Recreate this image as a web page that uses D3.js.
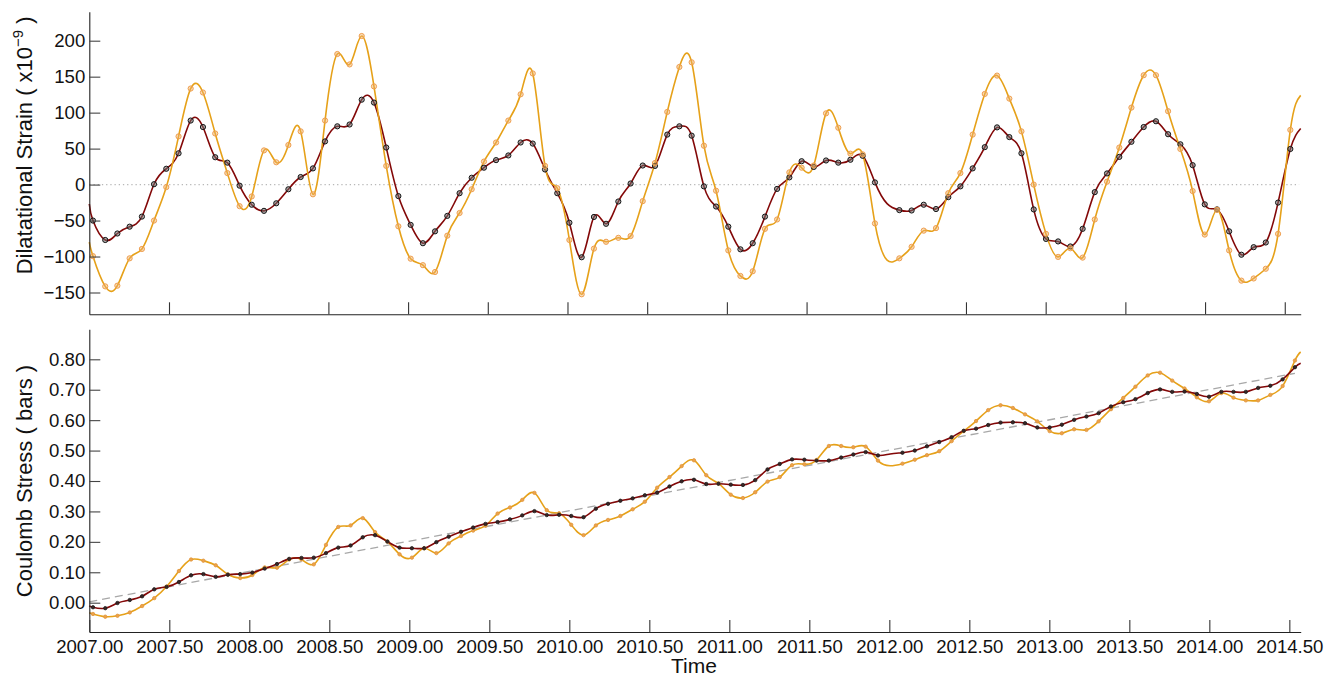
<!DOCTYPE html>
<html>
<head>
<meta charset="utf-8">
<script src="https://cdn.jsdelivr.net/npm/d3@7/dist/d3.min.js"></script>
<style>
  html, body { margin: 0; padding: 0; background: #fff; }
  svg { display: block; font-family: "Liberation Sans", Arial, Helvetica, sans-serif; }
</style>
</head>
<body>
<svg id="chart" width="1335" height="677"></svg>
<script>
// Sample epochs (decimal years, 28-day spacing)
const times = [
  2007.023, 2007.100, 2007.176, 2007.253, 2007.330, 2007.406, 2007.483, 2007.560, 2007.636, 2007.713,
  2007.790, 2007.866, 2007.943, 2008.019, 2008.096, 2008.173, 2008.249, 2008.326, 2008.403, 2008.479,
  2008.556, 2008.633, 2008.709, 2008.786, 2008.863, 2008.939, 2009.016, 2009.093, 2009.169, 2009.246,
  2009.323, 2009.399, 2009.476, 2009.552, 2009.629, 2009.706, 2009.782, 2009.859, 2009.936, 2010.012,
  2010.089, 2010.166, 2010.242, 2010.319, 2010.396, 2010.472, 2010.549, 2010.626, 2010.702, 2010.779,
  2010.856, 2010.932, 2011.009, 2011.085, 2011.162, 2011.239, 2011.315, 2011.392, 2011.469, 2011.545,
  2011.622, 2011.699, 2011.775, 2011.852, 2011.929, 2012.005, 2012.082, 2012.159, 2012.235, 2012.312,
  2012.389, 2012.465, 2012.542, 2012.618, 2012.695, 2012.772, 2012.848, 2012.925, 2013.002, 2013.078,
  2013.155, 2013.232, 2013.308, 2013.385, 2013.462, 2013.538, 2013.615, 2013.692, 2013.768, 2013.845,
  2013.922, 2013.998, 2014.075, 2014.151, 2014.228, 2014.305, 2014.381, 2014.458, 2014.535
];
// Epoch carried by the curve only (no sample symbol)
const unmarkedTimes = [2012.005];

// Dilatational strain (x1e-9)
const strainDark = [
  -50, -77, -68, -58.5, -44.5, 0.5, 22, 43.5, 89, 80,
  38, 30.5, -1.5, -28, -36.5, -26, -6.5, 10.5, 22.5, 60,
  81, 83.5, 118, 114, 51.5, -16, -56, -81.5, -65, -43.5,
  -12, 9.5, 23.5, 34, 40.5, 58.5, 57, 21, -12, -53,
  -101, -45, -54.5, -23.5, 1.5, 26.5, 26, 69.5, 81, 68,
  -2.5, -30.5, -58.5, -90, -81.5, -44.5, -6, 10, 32.5, 24.5,
  33.5, 30.5, 34.5, 40, 3, -26.5, -35.5, -36, -28, -34,
  -17.5, -2.5, 22.5, 52, 79.5, 66, 43.5, -34.5, -75.5, -79,
  -86, -61.5, -10.5, 15.5, 38.5, 59.5, 80, 88, 70, 56,
  27, -27.5, -34.5, -65, -97.5, -87, -80.5, -25, 49.5
];
const strainOrange = [
  -99.5, -141.5, -140.5, -102.5, -89.5, -50, -3.5, 67, 133.5, 128,
  71, 16, -30, -16.5, 47.5, 31, 55, 74, -13.5, 89,
  181.5, 167, 206.5, 136.5, 26, -58, -103, -112, -121.5, -71,
  -39.5, -6.5, 32, 58.5, 89, 125.5, 154.5, 26, -5, -77,
  -152.5, -89, -79.5, -74, -71.5, -23, 30, 101, 163.5, 170,
  54, -8.5, -91.5, -127, -120.5, -61.5, -48.5, 17, 23.5, 26.5,
  99, 79, 43, 42, -54, -105, -102.5, -86.5, -64, -60.5,
  -12, 16, 69.5, 126, 151.5, 119.5, 74, 0, -68.5, -100.5,
  -88.5, -101.5, -48.5, 4, 51.5, 107, 152, 152, 102, 49.5,
  -9, -69.5, -35, -91.5, -133.5, -130.5, -117, -68.5, 76
];
// Curve values at the left and right frame edges
const strainDarkEnds = [-27, 78];
const strainOrangeEnds = [-80, 124];

// Coulomb stress (bars)
const stressDark = [
  -0.015, -0.018, -0.001, 0.009, 0.021, 0.044, 0.052, 0.068, 0.090, 0.094,
  0.085, 0.092, 0.094, 0.099, 0.112, 0.127, 0.144, 0.147, 0.148, 0.163,
  0.181, 0.188, 0.215, 0.222, 0.201, 0.181, 0.179, 0.179, 0.199, 0.217,
  0.233, 0.247, 0.259, 0.265, 0.274, 0.287, 0.301, 0.288, 0.289, 0.285,
  0.281, 0.309, 0.325, 0.335, 0.343, 0.353, 0.362, 0.382, 0.399, 0.404,
  0.390, 0.391, 0.388, 0.387, 0.403, 0.438, 0.456, 0.471, 0.470, 0.467,
  0.467, 0.477, 0.487, 0.495, 0.484, 0.489, 0.493, 0.500, 0.514, 0.528,
  0.544, 0.565, 0.572, 0.584, 0.592, 0.593, 0.590, 0.576, 0.576, 0.585,
  0.601, 0.612, 0.623, 0.645, 0.659, 0.669, 0.689, 0.701, 0.693, 0.694,
  0.686, 0.677, 0.693, 0.693, 0.693, 0.706, 0.713, 0.734, 0.774
];
const stressOrange = [
  -0.037, -0.046, -0.043, -0.032, -0.011, 0.015, 0.053, 0.104, 0.142, 0.138,
  0.123, 0.093, 0.081, 0.091, 0.116, 0.115, 0.142, 0.142, 0.126, 0.190,
  0.249, 0.254, 0.278, 0.232, 0.201, 0.159, 0.148, 0.179, 0.163, 0.195,
  0.219, 0.237, 0.253, 0.293, 0.313, 0.338, 0.361, 0.304, 0.294, 0.256,
  0.222, 0.254, 0.272, 0.285, 0.307, 0.332, 0.378, 0.413, 0.449, 0.468,
  0.419, 0.392, 0.355, 0.344, 0.363, 0.398, 0.413, 0.452, 0.455, 0.469,
  0.515, 0.515, 0.511, 0.513, 0.467, 0.450, 0.457, 0.470, 0.485, 0.498,
  0.531, 0.564, 0.597, 0.633, 0.649, 0.640, 0.619, 0.596, 0.564, 0.557,
  0.570, 0.568, 0.596, 0.636, 0.673, 0.710, 0.747, 0.756, 0.730, 0.704,
  0.675, 0.662, 0.689, 0.674, 0.665, 0.665, 0.683, 0.712, 0.796
];
const stressDarkEnds = [-0.010, 0.787];
const stressOrangeEnds = [-0.033, 0.824];

// Linear stress trend: [time, value] at each end
const trendStart = [2007.0, 0.003];
const trendEnd = [2014.535, 0.754];

// Axis ticks
const strainTicks = [-150, -100, -50, 0, 50, 100, 150, 200];
const stressTicks = [0, 0.1, 0.2, 0.3, 0.4, 0.5, 0.6, 0.7, 0.8];
const yearTicks = [2007.0, 2007.5, 2008.0, 2008.5, 2009.0, 2009.5, 2010.0, 2010.5,
                   2011.0, 2011.5, 2012.0, 2012.5, 2013.0, 2013.5, 2014.0, 2014.5];

// Panel frames
const TOP_X_DOMAIN = [2007.0, 2014.6];
const BOT_X_DOMAIN = [2007.0, 2014.571];
const LEFT = 89.3, RIGHT = 1300.7;

const COLOR_DARK = "#830808";
const COLOR_ORANGE = "#e6a119";
const TICK_FONT = 18.6;

const svg = d3.select("#chart");

const xTop = d3.scaleLinear().domain(TOP_X_DOMAIN).range([LEFT, RIGHT]);
const yTop = d3.scaleLinear().domain([-180.3, 240.3]).range([314.3, 11.7]);
const xBot = d3.scaleLinear().domain(BOT_X_DOMAIN).range([LEFT, RIGHT]);
const yBot = d3.scaleLinear().domain([-0.0963, 0.8986]).range([632, 329.3]);

function curvePoints(values, ends, domain) {
  const pts = [[domain[0], ends[0]]];
  times.forEach((t, i) => pts.push([t, values[i]]));
  pts.push([domain[1], ends[1]]);
  return pts;
}
function markerPoints(values) {
  return times.map((t, i) => [t, values[i]])
    .filter(d => !unmarkedTimes.includes(d[0]));
}

function drawPanel(cfg) {
  const g = svg.append("g");
  const line = d3.line()
    .x(d => cfg.x(d[0]))
    .y(d => cfg.y(d[1]))
    .curve(d3.curveNatural);

  if (cfg.extra) cfg.extra(g);

  cfg.series.forEach(s => {
    g.append("path")
      .datum(curvePoints(s.values, s.ends, cfg.x.domain()))
      .attr("fill", "none")
      .attr("stroke", s.color)
      .attr("stroke-width", 1.6)
      .attr("d", line);
  });
  cfg.series.forEach(s => {
    g.append("g").selectAll("circle")
      .data(markerPoints(s.values))
      .join("circle")
      .attr("cx", d => cfg.x(d[0]))
      .attr("cy", d => cfg.y(d[1]))
      .attr("r", s.r)
      .attr("fill", s.fill)
      .attr("stroke", s.stroke)
      .attr("stroke-width", s.sw);
  });

  // y axis with inward ticks
  const ya = g.append("g")
    .attr("transform", `translate(${LEFT},0)`)
    .call(d3.axisLeft(cfg.y).tickValues(cfg.yTicks).tickFormat(cfg.yFormat)
      .tickSizeInner(-11).tickSizeOuter(0).tickPadding(4));
  ya.select(".domain").attr("stroke", "#222").attr("stroke-width", 1.1);
  ya.selectAll(".tick line").attr("stroke", "#444").attr("stroke-width", 1.1);
  ya.selectAll(".tick text").attr("font-size", TICK_FONT).attr("fill", "#111")
    .attr("font-family", "Liberation Sans, Arial, sans-serif");

  // x axis with inward ticks
  const xa = g.append("g")
    .attr("transform", `translate(0,${cfg.y.range()[0]})`)
    .call(d3.axisBottom(cfg.x).tickValues(cfg.xTicks).tickFormat(cfg.xFormat)
      .tickSizeInner(-12).tickSizeOuter(0).tickPadding(8));
  xa.select(".domain").attr("stroke", "#222").attr("stroke-width", 1.1);
  xa.selectAll(".tick line").attr("stroke", "#333").attr("stroke-width", 1.1);
  xa.selectAll(".tick text").attr("font-size", TICK_FONT).attr("fill", "#111")
    .attr("font-family", "Liberation Sans, Arial, sans-serif");
  return g;
}

// Top: dilatational strain
drawPanel({
  x: xTop, y: yTop,
  yTicks: strainTicks, yFormat: d => d < 0 ? "\u2212" + Math.abs(d) : String(d),
  xTicks: yearTicks.filter(t => t > 2007), xFormat: () => "",
  extra: g => {
    g.append("line")
      .attr("x1", xTop(2007.0)).attr("x2", xTop(2014.59))
      .attr("y1", yTop(0)).attr("y2", yTop(0))
      .attr("stroke", "#b8b8b8").attr("stroke-width", 1.4)
      .attr("stroke-dasharray", "1.3,2.9");
  },
  series: [
    { values: strainDark, ends: strainDarkEnds, color: COLOR_DARK,
      r: 2.6, fill: "rgba(110,110,110,0.55)", stroke: "#151515", sw: 1 },
    { values: strainOrange, ends: strainOrangeEnds, color: COLOR_ORANGE,
      r: 2.6, fill: "rgba(240,175,100,0.45)", stroke: "#ef9f4f", sw: 1 }
  ]
});

// Bottom: Coulomb stress
drawPanel({
  x: xBot, y: yBot,
  yTicks: stressTicks, yFormat: d3.format(".2f"),
  xTicks: yearTicks, xFormat: d3.format(".2f"),
  extra: g => {
    g.append("line")
      .attr("x1", xBot(trendStart[0])).attr("x2", xBot(trendEnd[0]))
      .attr("y1", yBot(trendStart[1])).attr("y2", yBot(trendEnd[1]))
      .attr("stroke", "#a8a8a8").attr("stroke-width", 1.3)
      .attr("stroke-dasharray", "8,5");
  },
  series: [
    { values: stressOrange, ends: stressOrangeEnds, color: COLOR_ORANGE,
      r: 1.7, fill: "#eda24a", stroke: "#e0963c", sw: 0.8 },
    { values: stressDark, ends: stressDarkEnds, color: COLOR_DARK,
      r: 1.7, fill: "#3a2626", stroke: "#1a1a1a", sw: 0.8 }
  ]
});

// Axis titles
const topTitle = svg.append("text")
  .attr("transform", `translate(32,${(11.7 + 277) / 2 + 1}) rotate(-90)`)
  .attr("text-anchor", "middle")
  .attr("font-size", 22).attr("fill", "#111");
topTitle.append("tspan").text("Dilatational Strain ( x10");
topTitle.append("tspan").attr("font-size", 15).attr("dy", -9).text("\u22129");
topTitle.append("tspan").attr("dy", 9).text(" )");

svg.append("text")
  .attr("transform", `translate(32,481) rotate(-90)`)
  .attr("text-anchor", "middle")
  .attr("font-size", 22).attr("fill", "#111")
  .text("Coulomb Stress ( bars )");

svg.append("text")
  .attr("x", (LEFT + RIGHT) / 2 - 1).attr("y", 672.5)
  .attr("text-anchor", "middle")
  .attr("font-size", 21).attr("fill", "#111")
  .text("Time");
</script>
</body>
</html>
